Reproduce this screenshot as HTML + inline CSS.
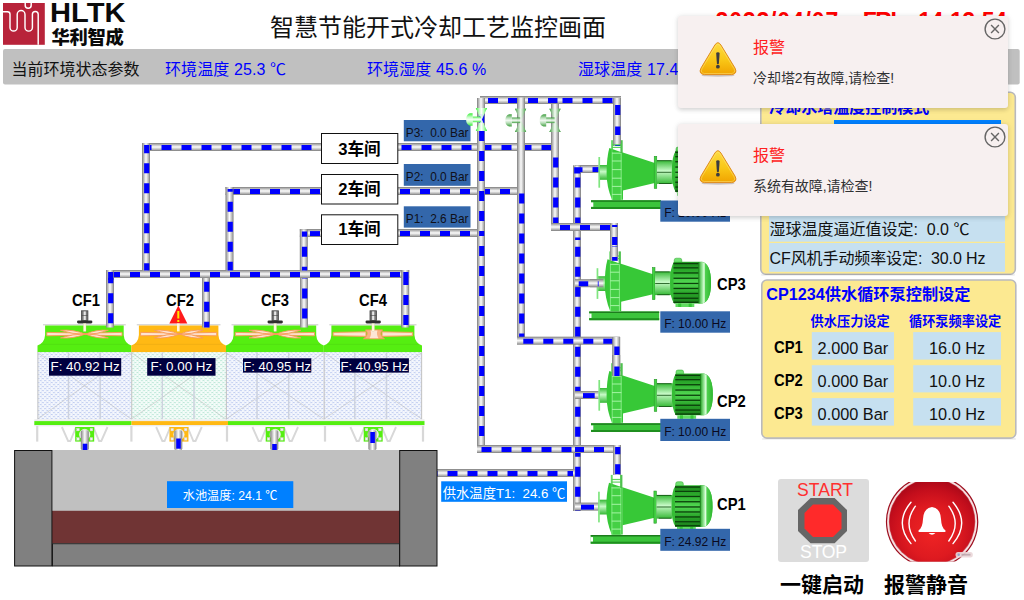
<!DOCTYPE html>
<html lang="zh-CN"><head><meta charset="utf-8"><title>智慧节能开式冷却工艺监控画面</title>
<style>
html,body{margin:0;padding:0;background:#fff;}
body{width:1024px;height:600px;position:relative;overflow:hidden;font-family:"Liberation Sans","Noto Sans CJK SC",sans-serif;color:#000;}
.abs{position:absolute;white-space:nowrap;}
.b{font-weight:bold;}
.toast{width:330px;height:92px;background:#f7f0f0;border-radius:3px;box-shadow:0 1.5px 4px rgba(0,0,0,0.15),0 0 9px rgba(0,0,0,0.05);}
svg{display:block;}
</style></head>
<body>
<svg class="abs" style="left:0;top:0" width="1024" height="600" viewBox="0 0 1024 600">
<defs>
<linearGradient id="pgH" x1="0" y1="0" x2="0" y2="1">
<stop offset="0" stop-color="#7c7c7c"/><stop offset="0.16" stop-color="#acacac"/><stop offset="0.5" stop-color="#fcfcfc"/><stop offset="0.84" stop-color="#acacac"/><stop offset="1" stop-color="#7c7c7c"/>
</linearGradient>
<linearGradient id="pgV" x1="0" y1="0" x2="1" y2="0">
<stop offset="0" stop-color="#7c7c7c"/><stop offset="0.16" stop-color="#acacac"/><stop offset="0.5" stop-color="#fcfcfc"/><stop offset="0.84" stop-color="#acacac"/><stop offset="1" stop-color="#7c7c7c"/>
</linearGradient>
<pattern id="meshB" width="4.4" height="4" patternUnits="userSpaceOnUse">
<rect width="4.4" height="4" fill="#f4f7fd"/><rect x="0.2" y="0.2" width="1.8" height="0.8" fill="#b4c3ee"/><rect x="2.4" y="2.2" width="1.8" height="0.8" fill="#b4c3ee"/><path d="M0.1,1 V2.2 M2.1,1 V2.2 M2.3,3 V4 M4.3,3 V4" stroke="#d3dcf5" stroke-width="0.5"/>
</pattern>
<pattern id="meshG" width="4.4" height="4" patternUnits="userSpaceOnUse">
<rect width="4.4" height="4" fill="#f4fcf9"/><rect x="0.2" y="0.2" width="1.8" height="0.8" fill="#aee2d0"/><rect x="2.4" y="2.2" width="1.8" height="0.8" fill="#aee2d0"/><path d="M0.1,1 V2.2 M2.1,1 V2.2 M2.3,3 V4 M4.3,3 V4" stroke="#d0efe4" stroke-width="0.5"/>
</pattern>
<linearGradient id="gV" x1="0" y1="0" x2="0" y2="1">
<stop offset="0" stop-color="#35b835"/><stop offset="0.45" stop-color="#c8fac8"/><stop offset="1" stop-color="#35b835"/>
</linearGradient>
<linearGradient id="gM" x1="0" y1="0" x2="0" y2="1">
<stop offset="0" stop-color="#1c8a1c"/><stop offset="0.25" stop-color="#2fb02f"/><stop offset="0.5" stop-color="#52d852"/><stop offset="0.75" stop-color="#2aa52a"/><stop offset="1" stop-color="#1a801a"/>
</linearGradient>
<linearGradient id="gCap" x1="0" y1="0" x2="1" y2="0">
<stop offset="0" stop-color="#2cab2c"/><stop offset="0.36" stop-color="#b8f5b8"/><stop offset="0.44" stop-color="#e4ffe4"/><stop offset="0.55" stop-color="#4fd04f"/><stop offset="1" stop-color="#2eb82e"/>
</linearGradient>
<linearGradient id="gBase" x1="0" y1="0" x2="0" y2="1">
<stop offset="0" stop-color="#157015"/><stop offset="0.3" stop-color="#3cc43c"/><stop offset="1" stop-color="#1e8c1e"/>
</linearGradient>
<linearGradient id="gv1H" x1="0" y1="0" x2="1" y2="0"><stop offset="0" stop-color="#3cf03c"/><stop offset="0.28" stop-color="#b8fcb8"/><stop offset="0.5" stop-color="#ffffff" stop-opacity="0.9"/><stop offset="0.72" stop-color="#b8fcb8"/><stop offset="1" stop-color="#3cf03c"/></linearGradient>
<linearGradient id="gv1V" x1="0" y1="0" x2="0" y2="1"><stop offset="0" stop-color="#3cf03c"/><stop offset="0.3" stop-color="#c4fcc4"/><stop offset="0.5" stop-color="#f4fff4"/><stop offset="0.7" stop-color="#c4fcc4"/><stop offset="1" stop-color="#3cf03c"/></linearGradient>
<linearGradient id="gv2H" x1="0" y1="0" x2="1" y2="0"><stop offset="0" stop-color="#2f962f"/><stop offset="0.28" stop-color="#a8d4a8" stop-opacity="0.9"/><stop offset="0.5" stop-color="#f4fff4" stop-opacity="0.8"/><stop offset="0.72" stop-color="#a8d4a8" stop-opacity="0.9"/><stop offset="1" stop-color="#2f962f"/></linearGradient>
<linearGradient id="gv2V" x1="0" y1="0" x2="0" y2="1"><stop offset="0" stop-color="#2f962f"/><stop offset="0.3" stop-color="#b4dcb4"/><stop offset="0.5" stop-color="#f0f8f0"/><stop offset="0.7" stop-color="#b4dcb4"/><stop offset="1" stop-color="#2f962f"/></linearGradient>
<radialGradient id="gAlarm" cx="0.5" cy="0.62" r="0.62">
<stop offset="0" stop-color="#f02424"/><stop offset="0.5" stop-color="#de1a20"/><stop offset="0.8" stop-color="#c40e1c"/><stop offset="1" stop-color="#a80818"/>
</radialGradient>
<linearGradient id="gWarn" x1="0" y1="0" x2="0" y2="1">
<stop offset="0" stop-color="#fddc44"/><stop offset="0.55" stop-color="#f9c616"/><stop offset="1" stop-color="#f0a200"/>
</linearGradient>
</defs>
<rect x="142" y="143.0" width="180" height="8" fill="url(#pgH)"/>
<line x1="144" y1="147.55" x2="322" y2="147.55" stroke="#0000ff" stroke-width="4.9" stroke-dasharray="10 10" stroke-dashoffset="2.5"/>
<rect x="225.5" y="187.0" width="96.5" height="8" fill="url(#pgH)"/>
<line x1="228" y1="191.55" x2="322" y2="191.55" stroke="#0000ff" stroke-width="4.9" stroke-dasharray="10 10" stroke-dashoffset="18"/>
<rect x="299.8" y="229.0" width="22.2" height="8" fill="url(#pgH)"/>
<line x1="302" y1="233.55" x2="322" y2="233.55" stroke="#0000ff" stroke-width="4.9" stroke-dasharray="10 10" stroke-dashoffset="12"/>
<rect x="106" y="270.0" width="303.2" height="8" fill="url(#pgH)"/>
<line x1="108" y1="274.55" x2="409.2" y2="274.55" stroke="#0000ff" stroke-width="4.9" stroke-dasharray="10 10" stroke-dashoffset="18"/>
<rect x="142.0" y="143" width="8" height="127.5" fill="url(#pgV)"/>
<line x1="146.7" y1="145" x2="146.7" y2="270.5" stroke="#0000ff" stroke-width="5.2" stroke-dasharray="10 10" stroke-dashoffset="1.7"/>
<rect x="225.5" y="187" width="8" height="83.5" fill="url(#pgV)"/>
<line x1="230.2" y1="189" x2="230.2" y2="270.5" stroke="#0000ff" stroke-width="5.2" stroke-dasharray="10 10" stroke-dashoffset="7.3"/>
<rect x="299.8" y="229.3" width="8" height="41.2" fill="url(#pgV)"/>
<line x1="304.5" y1="231.5" x2="304.5" y2="236.7" stroke="#0000ff" stroke-width="5.2" stroke-dasharray="10 10" stroke-dashoffset="4.8"/>
<line x1="304.5" y1="240" x2="304.5" y2="270.5" stroke="#0000ff" stroke-width="5.2" stroke-dasharray="10 10" stroke-dashoffset="13.3"/>
<rect x="106.0" y="278" width="8" height="49.5" fill="url(#pgV)"/>
<line x1="110.7" y1="278" x2="110.7" y2="327.5" stroke="#0000ff" stroke-width="5.2" stroke-dasharray="10 10" stroke-dashoffset="4.7"/>
<rect x="202.0" y="278" width="8" height="49.5" fill="url(#pgV)"/>
<line x1="206.7" y1="278" x2="206.7" y2="327.5" stroke="#0000ff" stroke-width="5.2" stroke-dasharray="10 10" stroke-dashoffset="16.3"/>
<rect x="300.0" y="278" width="8" height="49.5" fill="url(#pgV)"/>
<line x1="304.7" y1="278" x2="304.7" y2="327.5" stroke="#0000ff" stroke-width="5.2" stroke-dasharray="10 10" stroke-dashoffset="9.5"/>
<rect x="401.2" y="278" width="8" height="49.5" fill="url(#pgV)"/>
<line x1="405.9" y1="278" x2="405.9" y2="327.5" stroke="#0000ff" stroke-width="5.2" stroke-dasharray="10 10" stroke-dashoffset="3"/>
<rect x="106.0" y="270" width="8" height="8" fill="url(#pgV)"/>
<line x1="110.7" y1="272" x2="110.7" y2="280" stroke="#0000ff" stroke-width="5.2"/>
<rect x="401.2" y="270" width="8" height="8" fill="url(#pgV)"/>
<line x1="405.9" y1="272" x2="405.9" y2="278" stroke="#0000ff" stroke-width="5.2"/>
<rect x="398" y="143.0" width="155" height="8" fill="url(#pgH)"/>
<line x1="400" y1="147.55" x2="553" y2="147.55" stroke="#0000ff" stroke-width="4.9" stroke-dasharray="10 10" stroke-dashoffset="18.5"/>
<rect x="398" y="187.0" width="121" height="8" fill="url(#pgH)"/>
<line x1="400" y1="191.55" x2="519" y2="191.55" stroke="#0000ff" stroke-width="4.9" stroke-dasharray="10 10" stroke-dashoffset="0"/>
<rect x="398" y="229.0" width="85" height="8" fill="url(#pgH)"/>
<line x1="400" y1="233.55" x2="483" y2="233.55" stroke="#0000ff" stroke-width="4.9" stroke-dasharray="10 10" stroke-dashoffset="0"/>
<rect x="551.0" y="104" width="8" height="126" fill="url(#pgV)"/>
<line x1="555.7" y1="157.5" x2="555.7" y2="230" stroke="#0000ff" stroke-width="5.2" stroke-dasharray="10 10" stroke-dashoffset="0.0"/>
<rect x="480" y="96.0" width="141" height="8" fill="url(#pgH)"/>
<line x1="482" y1="100.55" x2="557.5" y2="100.55" stroke="#0000ff" stroke-width="4.9" stroke-dasharray="10 10" stroke-dashoffset="14"/>
<line x1="562.5" y1="100.55" x2="621" y2="100.55" stroke="#0000ff" stroke-width="4.9" stroke-dasharray="10 10" stroke-dashoffset="0.0"/>
<rect x="517.0" y="97.6" width="8" height="246.4" fill="url(#pgV)"/>
<line x1="521.7" y1="190" x2="521.7" y2="344" stroke="#0000ff" stroke-width="5.2" stroke-dasharray="10 10" stroke-dashoffset="16.5"/>
<rect x="477.0" y="98" width="8" height="355" fill="url(#pgV)"/>
<line x1="481.7" y1="131" x2="481.7" y2="236" stroke="#0000ff" stroke-width="5.2" stroke-dasharray="10 10" stroke-dashoffset="0"/>
<line x1="481.7" y1="236" x2="481.7" y2="453" stroke="#0000ff" stroke-width="5.2" stroke-dasharray="10 10" stroke-dashoffset="10"/>
<rect x="573.0" y="165.5" width="8" height="345.5" fill="url(#pgV)"/>
<line x1="577.7" y1="167.5" x2="577.7" y2="240" stroke="#0000ff" stroke-width="5.2" stroke-dasharray="10 10" stroke-dashoffset="10.0"/>
<line x1="577.7" y1="240" x2="577.7" y2="511" stroke="#0000ff" stroke-width="5.2" stroke-dasharray="10 10" stroke-dashoffset="13.3"/>
<rect x="613.0" y="98" width="8" height="48" fill="url(#pgV)"/>
<line x1="617.7" y1="100" x2="617.7" y2="146" stroke="#0000ff" stroke-width="5.2" stroke-dasharray="10 10" stroke-dashoffset="15"/>
<rect x="551" y="223.0" width="67" height="8" fill="url(#pgH)"/>
<line x1="553" y1="227.55" x2="618" y2="227.55" stroke="#0000ff" stroke-width="4.9" stroke-dasharray="10 10" stroke-dashoffset="13"/>
<rect x="610.0" y="223" width="8" height="37.5" fill="url(#pgV)"/>
<line x1="614.7" y1="225" x2="614.7" y2="260.5" stroke="#0000ff" stroke-width="5.2" stroke-dasharray="10 10" stroke-dashoffset="8"/>
<rect x="517" y="336.7" width="103" height="8" fill="url(#pgH)"/>
<line x1="519" y1="341.25" x2="620" y2="341.25" stroke="#0000ff" stroke-width="4.9" stroke-dasharray="10 10" stroke-dashoffset="15.7"/>
<rect x="612.2" y="337" width="8" height="35" fill="url(#pgV)"/>
<line x1="616.9000000000001" y1="339" x2="616.9000000000001" y2="372" stroke="#0000ff" stroke-width="5.2" stroke-dasharray="10 10" stroke-dashoffset="12.5"/>
<rect x="477" y="445.0" width="144" height="8" fill="url(#pgH)"/>
<line x1="479" y1="449.55" x2="575" y2="449.55" stroke="#0000ff" stroke-width="4.9" stroke-dasharray="10 10" stroke-dashoffset="17.5"/>
<line x1="575" y1="449.55" x2="621" y2="449.55" stroke="#0000ff" stroke-width="4.9" stroke-dasharray="10 10" stroke-dashoffset="1"/>
<rect x="613.0" y="445" width="8" height="29.7" fill="url(#pgV)"/>
<line x1="617.7" y1="447" x2="617.7" y2="474.7" stroke="#0000ff" stroke-width="5.2" stroke-dasharray="10 10" stroke-dashoffset="2.8"/>
<rect x="437" y="469.0" width="137.5" height="8" fill="url(#pgH)"/>
<line x1="437" y1="473.55" x2="573" y2="473.55" stroke="#0000ff" stroke-width="4.9" stroke-dasharray="10 10" stroke-dashoffset="9.5"/>
<rect x="575" y="165.0" width="23.7" height="8" fill="url(#pgH)"/>
<line x1="592.5" y1="169.55" x2="598.7" y2="169.55" stroke="#0000ff" stroke-width="4.9"/>
<rect x="575" y="279.2" width="23.7" height="8" fill="url(#pgH)"/>
<line x1="578.7" y1="283.75" x2="588.2" y2="283.75" stroke="#0000ff" stroke-width="4.9"/>
<rect x="575" y="391.0" width="23.7" height="8" fill="url(#pgH)"/>
<line x1="583" y1="395.55" x2="594.7" y2="395.55" stroke="#0000ff" stroke-width="4.9"/>
<rect x="575" y="502.6" width="23.7" height="8" fill="url(#pgH)"/>
<line x1="581" y1="507.15000000000003" x2="594" y2="507.15000000000003" stroke="#0000ff" stroke-width="4.9"/>
<rect x="573" y="165.5" width="8" height="8" fill="url(#pgV)"/>
<path d="M574.2,167.3 H582.5 V172.1 H580.4 V173.5 H574.2 Z" fill="#0000ff"/>
<rect x="321.5" y="133.5" width="76.3" height="30" fill="#fff" stroke="#111" stroke-width="1"/>
<rect x="321.5" y="174.5" width="76.3" height="29.5" fill="#fff" stroke="#111" stroke-width="1"/>
<rect x="321.5" y="214.8" width="76.3" height="29.7" fill="#fff" stroke="#111" stroke-width="1"/>
<line x1="43.0" y1="324.8" x2="125.80000000000001" y2="324.8" stroke="#c4c4c4" stroke-width="0.9"/>
<path d="M37.5,352.3 V345.5 Q44.5,343 45.1,335 V325.4 H123.70000000000002 V335 Q124.30000000000001,343 131.3,345.5 V352.3 Z" fill="#55ee11"/>
<line x1="40.5" y1="344.3" x2="128.3" y2="344.3" stroke="#000" stroke-opacity="0.07" stroke-width="0.8"/>
<g fill="#fde4d2" stroke="#f89858" stroke-width="0.9" stroke-linejoin="round"><path d="M46.8,332.4 L79.5,333 L85.5,334 L79.5,335.2 L46.8,335.8 Z"/><path d="M122.00000000000001,332.4 L91.5,333 L85.5,334 L91.5,335.2 L122.00000000000001,335.8 Z"/><path d="M85.5,334.2 Q73.0,329.2 60.5,330.3 Q73.0,334.4 85.5,334.2 Z"/><path d="M85.5,334 Q73.0,339 60.5,337.9 Q73.0,333.8 85.5,334 Z"/><path d="M85.5,334.2 Q96.9,329.2 108.30000000000001,330.3 Q96.9,334.4 85.5,334.2 Z"/><path d="M85.5,334 Q96.9,339 108.30000000000001,337.9 Q96.9,333.8 85.5,334 Z"/></g>
<rect x="37.5" y="352.3" width="93.80000000000001" height="67" fill="url(#meshB)"/>
<g stroke="#c4c4c8" stroke-width="1" fill="none"><path d="M37.5,419.2 L131.3,352.5 M37.5,352.5 L131.3,419.2" stroke-width="0.55" stroke="#bdbdbd"/><line x1="68.5" y1="352.3" x2="68.5" y2="419.3" stroke-width="1.5" stroke="#cdd2de"/><line x1="100.2" y1="352.3" x2="100.2" y2="419.3" stroke-width="1.5" stroke="#cdd2de"/><line x1="37.9" y1="352.3" x2="37.9" y2="419.3" stroke="#c6c6c6" stroke-width="1.1"/></g>
<rect x="34.3" y="419.3" width="97.2" height="1.8" fill="#ececec"/>
<rect x="34.3" y="421.1" width="97.2" height="3.9" fill="#55ee11"/>
<rect x="34.3" y="425" width="97.2" height="1.3" fill="#ececec"/>
<g stroke="#d8d8d8" stroke-width="2.2" fill="none"><line x1="37.2" y1="426" x2="37.2" y2="441.6"/><path d="M61.900000000000006,427 L68.1,441 H70.3 L76.10000000000001,427" stroke-width="1.9"/><path d="M93.3,427 L99.10000000000001,441 H101.30000000000001 L107.5,427" stroke-width="1.9"/></g>
<rect x="75.2" y="427" width="19" height="14.6" fill="#55ee11"/>
<circle cx="84.7" cy="434.5" r="5.2" fill="#ededed" stroke="#fff" stroke-width="0.6"/>
<rect x="76.7" y="428.3" width="2.6" height="2.6" fill="#f2f2f2" stroke="#d0d0d0" stroke-width="0.4"/>
<rect x="90.10000000000001" y="428.3" width="2.6" height="2.6" fill="#f2f2f2" stroke="#d0d0d0" stroke-width="0.4"/>
<rect x="90.10000000000001" y="437.6" width="2.6" height="2.6" fill="#f2f2f2" stroke="#d0d0d0" stroke-width="0.4"/>
<rect x="76.7" y="437.6" width="2.6" height="2.6" fill="#f2f2f2" stroke="#d0d0d0" stroke-width="0.4"/>
<rect x="81.5" y="310.8" width="6.4" height="9.6" fill="#777" stroke="#444" stroke-width="0.8"/>
<rect x="83.60000000000001" y="311.4" width="2.2" height="8.6" fill="#e8e8e8"/>
<line x1="81.7" y1="315.5" x2="87.7" y2="315.5" stroke="#444" stroke-width="0.6"/>
<rect x="77.0" y="320.6" width="15.4" height="2.9" rx="1.4" fill="#2e2e2e"/>
<rect x="83.4" y="323.4" width="2.6" height="8" fill="#fff8dc" stroke="#cfc8a8" stroke-width="0.3"/>
<line x1="136.8" y1="324.8" x2="220.5" y2="324.8" stroke="#c4c4c4" stroke-width="0.9"/>
<path d="M131.3,352.3 V345.5 Q138.3,343 138.9,335 V325.4 H218.4 V335 Q219,343 226,345.5 V352.3 Z" fill="#ffb914"/>
<line x1="134.3" y1="344.3" x2="223" y2="344.3" stroke="#000" stroke-opacity="0.07" stroke-width="0.8"/>
<g fill="#fde4d2" stroke="#f89858" stroke-width="0.9" stroke-linejoin="round"><path d="M140.60000000000002,332.4 L173.75000000000003,333 L179.75000000000003,334 L173.75000000000003,335.2 L140.60000000000002,335.8 Z"/><path d="M216.7,332.4 L185.75000000000003,333 L179.75000000000003,334 L185.75000000000003,335.2 L216.7,335.8 Z"/><path d="M179.75000000000003,334.2 Q167.0,329.2 154.3,330.3 Q167.0,334.4 179.75000000000003,334.2 Z"/><path d="M179.75000000000003,334 Q167.0,339 154.3,337.9 Q167.0,333.8 179.75000000000003,334 Z"/><path d="M179.75000000000003,334.2 Q191.4,329.2 203,330.3 Q191.4,334.4 179.75000000000003,334.2 Z"/><path d="M179.75000000000003,334 Q191.4,339 203,337.9 Q191.4,333.8 179.75000000000003,334 Z"/></g>
<rect x="131.3" y="352.3" width="94.69999999999999" height="67" fill="url(#meshG)"/>
<g stroke="#c4c4c8" stroke-width="1" fill="none"><path d="M131.3,419.2 L226,352.5 M131.3,352.5 L226,419.2" stroke-width="0.55" stroke="#bdbdbd"/><line x1="162.3" y1="352.3" x2="162.3" y2="419.3" stroke-width="1.5" stroke="#cdd2de"/><line x1="194.0" y1="352.3" x2="194.0" y2="419.3" stroke-width="1.5" stroke="#cdd2de"/><line x1="131.70000000000002" y1="352.3" x2="131.70000000000002" y2="419.3" stroke="#c6c6c6" stroke-width="1.1"/></g>
<rect x="131.5" y="419.3" width="96.5" height="1.8" fill="#ececec"/>
<rect x="131.5" y="421.1" width="96.5" height="3.9" fill="#ffb914"/>
<rect x="131.5" y="425" width="96.5" height="1.3" fill="#ececec"/>
<g stroke="#d8d8d8" stroke-width="2.2" fill="none"><line x1="131.4" y1="426" x2="131.4" y2="441.6"/><path d="M156.15,427 L162.35000000000002,441 H164.55 L170.35000000000002,427" stroke-width="1.9"/><path d="M187.55,427 L193.35000000000002,441 H195.55 L201.75000000000003,427" stroke-width="1.9"/></g>
<rect x="169.45000000000002" y="427" width="19" height="14.6" fill="#ffb914"/>
<circle cx="178.95000000000002" cy="434.5" r="5.2" fill="#ededed" stroke="#fff" stroke-width="0.6"/>
<rect x="170.95000000000002" y="428.3" width="2.6" height="2.6" fill="#f2f2f2" stroke="#d0d0d0" stroke-width="0.4"/>
<rect x="184.35000000000002" y="428.3" width="2.6" height="2.6" fill="#f2f2f2" stroke="#d0d0d0" stroke-width="0.4"/>
<rect x="184.35000000000002" y="437.6" width="2.6" height="2.6" fill="#f2f2f2" stroke="#d0d0d0" stroke-width="0.4"/>
<rect x="170.95000000000002" y="437.6" width="2.6" height="2.6" fill="#f2f2f2" stroke="#d0d0d0" stroke-width="0.4"/>
<line x1="231.5" y1="324.8" x2="318.3" y2="324.8" stroke="#c4c4c4" stroke-width="0.9"/>
<path d="M226,352.3 V345.5 Q233,343 233.6,335 V325.4 H316.2 V335 Q316.8,343 323.8,345.5 V352.3 Z" fill="#55ee11"/>
<line x1="229" y1="344.3" x2="320.8" y2="344.3" stroke="#000" stroke-opacity="0.07" stroke-width="0.8"/>
<g fill="#fde4d2" stroke="#f89858" stroke-width="0.9" stroke-linejoin="round"><path d="M235.3,332.4 L270.0,333 L276.0,334 L270.0,335.2 L235.3,335.8 Z"/><path d="M314.5,332.4 L282.0,333 L276.0,334 L282.0,335.2 L314.5,335.8 Z"/><path d="M276.0,334.2 Q262.5,329.2 249,330.3 Q262.5,334.4 276.0,334.2 Z"/><path d="M276.0,334 Q262.5,339 249,337.9 Q262.5,333.8 276.0,334 Z"/><path d="M276.0,334.2 Q288.4,329.2 300.8,330.3 Q288.4,334.4 276.0,334.2 Z"/><path d="M276.0,334 Q288.4,339 300.8,337.9 Q288.4,333.8 276.0,334 Z"/></g>
<rect x="226" y="352.3" width="97.80000000000001" height="67" fill="url(#meshB)"/>
<g stroke="#c4c4c8" stroke-width="1" fill="none"><path d="M226,419.2 L323.8,352.5 M226,352.5 L323.8,419.2" stroke-width="0.55" stroke="#bdbdbd"/><line x1="257" y1="352.3" x2="257" y2="419.3" stroke-width="1.5" stroke="#cdd2de"/><line x1="288.7" y1="352.3" x2="288.7" y2="419.3" stroke-width="1.5" stroke="#cdd2de"/><line x1="226.4" y1="352.3" x2="226.4" y2="419.3" stroke="#c6c6c6" stroke-width="1.1"/></g>
<rect x="228" y="419.3" width="99" height="1.8" fill="#ececec"/>
<rect x="228" y="421.1" width="99" height="3.9" fill="#55ee11"/>
<rect x="228" y="425" width="99" height="1.3" fill="#ececec"/>
<g stroke="#d8d8d8" stroke-width="2.2" fill="none"><line x1="227" y1="426" x2="227" y2="441.6"/><path d="M252.39999999999998,427 L258.59999999999997,441 H260.8 L266.59999999999997,427" stroke-width="1.9"/><path d="M283.8,427 L289.59999999999997,441 H291.8 L298.0,427" stroke-width="1.9"/></g>
<rect x="265.7" y="427" width="19" height="14.6" fill="#55ee11"/>
<circle cx="275.2" cy="434.5" r="5.2" fill="#ededed" stroke="#fff" stroke-width="0.6"/>
<rect x="267.2" y="428.3" width="2.6" height="2.6" fill="#f2f2f2" stroke="#d0d0d0" stroke-width="0.4"/>
<rect x="280.59999999999997" y="428.3" width="2.6" height="2.6" fill="#f2f2f2" stroke="#d0d0d0" stroke-width="0.4"/>
<rect x="280.59999999999997" y="437.6" width="2.6" height="2.6" fill="#f2f2f2" stroke="#d0d0d0" stroke-width="0.4"/>
<rect x="267.2" y="437.6" width="2.6" height="2.6" fill="#f2f2f2" stroke="#d0d0d0" stroke-width="0.4"/>
<rect x="272.0" y="310.8" width="6.4" height="9.6" fill="#777" stroke="#444" stroke-width="0.8"/>
<rect x="274.09999999999997" y="311.4" width="2.2" height="8.6" fill="#e8e8e8"/>
<line x1="272.2" y1="315.5" x2="278.2" y2="315.5" stroke="#444" stroke-width="0.6"/>
<rect x="267.5" y="320.6" width="15.4" height="2.9" rx="1.4" fill="#2e2e2e"/>
<rect x="273.9" y="323.4" width="2.6" height="8" fill="#fff8dc" stroke="#cfc8a8" stroke-width="0.3"/>
<line x1="329.3" y1="324.8" x2="416.5" y2="324.8" stroke="#c4c4c4" stroke-width="0.9"/>
<path d="M323.8,352.3 V345.5 Q330.8,343 331.40000000000003,335 V325.4 H414.4 V335 Q415,343 422,345.5 V352.3 Z" fill="#55ee11"/>
<line x1="326.8" y1="344.3" x2="419" y2="344.3" stroke="#000" stroke-opacity="0.07" stroke-width="0.8"/>
<g fill="#fcdcc4" stroke="#f89858" stroke-width="0.9" stroke-linejoin="round"><path d="M333.1,332.4 L366.0,331.8 V336.4 L333.1,335.8 Z"/><path d="M412.7,332.4 L382.0,331.8 V336.4 L412.7,335.8 Z"/><path d="M365.5,329.9 H382.5 Q378.0,334.2 384.5,338.8 H363.5 Q370.0,334.2 365.5,329.9 Z" fill="#f8b284"/><path d="M370.5,330.6 H377.5 Q376.0,334.2 378.5,338.2 H369.5 Q372.0,334.2 370.5,330.6 Z" fill="#fde6d6" stroke="none"/></g>
<g stroke="#fff" stroke-width="0.7" opacity="0.8"><line x1="334.8" y1="334.1" x2="365.0" y2="334.1"/><line x1="383.0" y1="334.1" x2="411" y2="334.1"/></g>
<rect x="323.8" y="352.3" width="98.19999999999999" height="67" fill="url(#meshB)"/>
<g stroke="#c4c4c8" stroke-width="1" fill="none"><path d="M323.8,419.2 L422,352.5 M323.8,352.5 L422,419.2" stroke-width="0.55" stroke="#bdbdbd"/><line x1="354.8" y1="352.3" x2="354.8" y2="419.3" stroke-width="1.5" stroke="#cdd2de"/><line x1="386.5" y1="352.3" x2="386.5" y2="419.3" stroke-width="1.5" stroke="#cdd2de"/><line x1="324.2" y1="352.3" x2="324.2" y2="419.3" stroke="#c6c6c6" stroke-width="1.1"/><line x1="421.6" y1="352.3" x2="421.6" y2="419.3" stroke="#c6c6c6" stroke-width="1.1"/></g>
<rect x="327" y="419.3" width="97.5" height="1.8" fill="#ececec"/>
<rect x="327" y="421.1" width="97.5" height="3.9" fill="#55ee11"/>
<rect x="327" y="425" width="97.5" height="1.3" fill="#ececec"/>
<g stroke="#d8d8d8" stroke-width="2.2" fill="none"><line x1="325" y1="426" x2="325" y2="441.6"/><line x1="423" y1="426" x2="423" y2="441.6"/><path d="M350.4,427 L356.59999999999997,441 H358.8 L364.59999999999997,427" stroke-width="1.9"/><path d="M381.8,427 L387.59999999999997,441 H389.8 L396.0,427" stroke-width="1.9"/></g>
<rect x="363.7" y="427" width="19" height="14.6" fill="#55ee11"/>
<circle cx="373.2" cy="434.5" r="5.2" fill="#ededed" stroke="#fff" stroke-width="0.6"/>
<rect x="365.2" y="428.3" width="2.6" height="2.6" fill="#f2f2f2" stroke="#d0d0d0" stroke-width="0.4"/>
<rect x="378.59999999999997" y="428.3" width="2.6" height="2.6" fill="#f2f2f2" stroke="#d0d0d0" stroke-width="0.4"/>
<rect x="378.59999999999997" y="437.6" width="2.6" height="2.6" fill="#f2f2f2" stroke="#d0d0d0" stroke-width="0.4"/>
<rect x="365.2" y="437.6" width="2.6" height="2.6" fill="#f2f2f2" stroke="#d0d0d0" stroke-width="0.4"/>
<rect x="370.0" y="310.8" width="6.4" height="9.6" fill="#777" stroke="#444" stroke-width="0.8"/>
<rect x="372.09999999999997" y="311.4" width="2.2" height="8.6" fill="#e8e8e8"/>
<line x1="370.2" y1="315.5" x2="376.2" y2="315.5" stroke="#444" stroke-width="0.6"/>
<rect x="365.5" y="320.6" width="15.4" height="2.9" rx="1.4" fill="#2e2e2e"/>
<rect x="371.9" y="323.4" width="2.6" height="8" fill="#fff8dc" stroke="#cfc8a8" stroke-width="0.3"/>
<rect x="106.0" y="300" width="8" height="27.5" fill="url(#pgV)"/>
<line x1="110.7" y1="300" x2="110.7" y2="327.5" stroke="#0000ff" stroke-width="5.2" stroke-dasharray="10 10" stroke-dashoffset="6.7"/>
<rect x="202.0" y="300" width="8" height="27.5" fill="url(#pgV)"/>
<line x1="206.7" y1="300" x2="206.7" y2="327.5" stroke="#0000ff" stroke-width="5.2" stroke-dasharray="10 10" stroke-dashoffset="18.3"/>
<rect x="300.0" y="300" width="8" height="27.5" fill="url(#pgV)"/>
<line x1="304.7" y1="300" x2="304.7" y2="327.5" stroke="#0000ff" stroke-width="5.2" stroke-dasharray="10 10" stroke-dashoffset="11.5"/>
<rect x="401.2" y="300" width="8" height="27.5" fill="url(#pgV)"/>
<line x1="405.9" y1="300" x2="405.9" y2="327.5" stroke="#0000ff" stroke-width="5.2" stroke-dasharray="10 10" stroke-dashoffset="5"/>
<rect x="80.8" y="430.3" width="8" height="19.7" rx="1.5" fill="url(#pgV)"/>
<rect x="82.7" y="443.7" width="4.6" height="6.300000000000011" fill="#0000ff"/>
<rect x="174.29999999999998" y="430.3" width="8" height="19.7" rx="1.5" fill="url(#pgV)"/>
<rect x="176.2" y="438.5" width="4.6" height="10.199999999999989" fill="#0000ff"/>
<rect x="270.3" y="430.3" width="8" height="19.7" rx="1.5" fill="url(#pgV)"/>
<rect x="272.2" y="444" width="4.6" height="6" fill="#0000ff"/>
<rect x="368.40000000000003" y="430.3" width="8" height="19.7" rx="1.5" fill="url(#pgV)"/>
<rect x="370.3" y="432" width="4.6" height="11" fill="#0000ff"/>
<path d="M178.3,305.5 L187.3,323.6 H169.3 Z" fill="#ff1a1a"/>
<rect x="177.3" y="311" width="2" height="7.5" fill="#ffe600"/><rect x="177.3" y="320" width="2" height="2" fill="#ffe600"/>
<rect x="177" y="323.4" width="2.6" height="8" fill="#fff8dc"/>
<rect x="49" y="358.1" width="72.2" height="17.6" fill="#000040"/>
<rect x="147.2" y="358.1" width="68.3" height="17.6" fill="#000040"/>
<rect x="243" y="358.3" width="68.3" height="14.3" fill="#000040"/>
<rect x="340" y="358.3" width="68.9" height="14.3" fill="#000040"/>
<rect x="52" y="450" width="348" height="61" fill="#c0c0c0"/>
<rect x="52" y="510.8" width="348" height="32.6" fill="#703434"/>
<rect x="52.5" y="543.7" width="347" height="22.3" fill="#808080" stroke="#222" stroke-width="1"/>
<rect x="14.6" y="450.5" width="37.3" height="115.5" fill="#808080" stroke="#111" stroke-width="1"/>
<rect x="399.7" y="450.5" width="37.3" height="115.5" fill="#808080" stroke="#111" stroke-width="1"/>
<rect x="167" y="481.2" width="126.3" height="26.8" fill="#0080ff"/>
<rect x="441.2" y="481.3" width="125.8" height="20.5" fill="#0080ff"/>
<g transform="translate(-0.3,111.7)"><rect x="591" y="423.3" width="70" height="8.7" fill="#3cc43c"/><rect x="591" y="423.3" width="70" height="1.5" fill="#1c7c1c"/><rect x="591" y="430" width="70" height="2" fill="#1f8f1f"/><rect x="591" y="425.4" width="2.3" height="4.4" fill="#fff"/><rect x="598.4" y="380" width="1.7" height="30.7" fill="#7fe57f"/><rect x="600" y="388" width="8" height="14.8" fill="url(#gV)"/><path d="M609.3,371 L623,375.7 V422.7 H612 Q606.6,410 606.6,396 Q606.6,381 609.3,371 Z" fill="#37c837"/><rect x="612" y="375" width="9.3" height="48" fill="#45d045"/><path d="M612.2,375 V423 M621.2,375.5 V423" stroke="#8cee8c" stroke-width="0.9" fill="none"/><line x1="612" y1="376.2" x2="621.4" y2="376.2" stroke="#a4f4a4" stroke-width="1"/><line x1="612" y1="384" x2="621.4" y2="384" stroke="#a4f4a4" stroke-width="1"/><line x1="612" y1="392.6" x2="621.4" y2="392.6" stroke="#a4f4a4" stroke-width="1"/><line x1="612" y1="401.2" x2="621.4" y2="401.2" stroke="#a4f4a4" stroke-width="1"/><line x1="612" y1="409.4" x2="621.4" y2="409.4" stroke="#a4f4a4" stroke-width="1"/><line x1="612" y1="417.4" x2="621.4" y2="417.4" stroke="#a4f4a4" stroke-width="1"/><rect x="611.1" y="363.2" width="1.9" height="12" fill="#4fd04f" opacity="0.85"/><rect x="620.4" y="363.2" width="2.3" height="13" fill="#3cba3c" opacity="0.9"/><rect x="612" y="367.2" width="9.4" height="1.2" fill="#4fd04f" opacity="0.9"/><rect x="612" y="369.8" width="9.4" height="1.2" fill="#4fd04f" opacity="0.9"/><path d="M622.8,375.6 L654.8,386 V406 L622.8,413.6 Z" fill="#37c837"/><rect x="654.2" y="379.3" width="2.6" height="32.2" fill="#43d243" stroke="#1f8f1f" stroke-width="0.5"/><rect x="656.8" y="383.3" width="16" height="23.6" fill="url(#gV)"/><line x1="657" y1="383.7" x2="671.5" y2="383.7" stroke="#0f4a0f" stroke-width="0.8"/><line x1="657" y1="395.3" x2="671.5" y2="395.3" stroke="#0f4a0f" stroke-width="0.8"/><line x1="659" y1="406.5" x2="671.5" y2="406.5" stroke="#0f4a0f" stroke-width="0.8"/><rect x="676" y="370" width="7.6" height="6.8" rx="2" fill="#6fe06f" stroke="#2aa52a" stroke-width="0.5"/><path d="M676,373.6 H704 Q712.8,376 712.8,394.5 Q712.8,413 704,415.3 H676 Q671.8,410 671.8,394.5 Q671.8,379 676,373.6 Z" fill="#35bd35"/><rect x="675.3" y="374.3" width="25.2" height="40.6" fill="url(#gM)"/><rect x="675.3" y="374.7" width="25.2" height="1.3" fill="#0b3f0b"/><rect x="675.3" y="379.0" width="25.2" height="1.3" fill="#0b3f0b"/><rect x="675.3" y="384.09999999999997" width="25.2" height="1.3" fill="#0b3f0b"/><rect x="675.3" y="389.4" width="25.2" height="1.3" fill="#0b3f0b"/><rect x="675.3" y="394.59999999999997" width="25.2" height="1.3" fill="#0b3f0b"/><rect x="675.3" y="399.59999999999997" width="25.2" height="1.3" fill="#0b3f0b"/><rect x="675.3" y="404.59999999999997" width="25.2" height="1.3" fill="#0b3f0b"/><rect x="675.3" y="409.4" width="25.2" height="1.3" fill="#0b3f0b"/><rect x="675.3" y="413.4" width="25.2" height="1.3" fill="#0b3f0b"/><path d="M700.5,373.8 H704 Q712.8,376 712.8,394.5 Q712.8,413 704,415.2 H700.5 Z" fill="url(#gCap)"/><line x1="700.6" y1="374" x2="700.6" y2="415" stroke="#157015" stroke-width="0.7"/><rect x="677.3" y="415.3" width="18.8" height="3.5" fill="#62dc62"/><rect x="680" y="415.3" width="3" height="3.5" fill="#37c837"/><rect x="690.5" y="415.3" width="3" height="3.5" fill="#37c837"/></g>
<g transform="translate(0,0)"><rect x="591" y="423.3" width="70" height="8.7" fill="#3cc43c"/><rect x="591" y="423.3" width="70" height="1.5" fill="#1c7c1c"/><rect x="591" y="430" width="70" height="2" fill="#1f8f1f"/><rect x="591" y="425.4" width="2.3" height="4.4" fill="#fff"/><rect x="598.4" y="380" width="1.7" height="30.7" fill="#7fe57f"/><rect x="600" y="388" width="8" height="14.8" fill="url(#gV)"/><path d="M609.3,371 L623,375.7 V422.7 H612 Q606.6,410 606.6,396 Q606.6,381 609.3,371 Z" fill="#37c837"/><rect x="612" y="375" width="9.3" height="48" fill="#45d045"/><path d="M612.2,375 V423 M621.2,375.5 V423" stroke="#8cee8c" stroke-width="0.9" fill="none"/><line x1="612" y1="376.2" x2="621.4" y2="376.2" stroke="#a4f4a4" stroke-width="1"/><line x1="612" y1="384" x2="621.4" y2="384" stroke="#a4f4a4" stroke-width="1"/><line x1="612" y1="392.6" x2="621.4" y2="392.6" stroke="#a4f4a4" stroke-width="1"/><line x1="612" y1="401.2" x2="621.4" y2="401.2" stroke="#a4f4a4" stroke-width="1"/><line x1="612" y1="409.4" x2="621.4" y2="409.4" stroke="#a4f4a4" stroke-width="1"/><line x1="612" y1="417.4" x2="621.4" y2="417.4" stroke="#a4f4a4" stroke-width="1"/><rect x="611.1" y="363.2" width="1.9" height="12" fill="#4fd04f" opacity="0.85"/><rect x="620.4" y="363.2" width="2.3" height="13" fill="#3cba3c" opacity="0.9"/><rect x="612" y="367.2" width="9.4" height="1.2" fill="#4fd04f" opacity="0.9"/><rect x="612" y="369.8" width="9.4" height="1.2" fill="#4fd04f" opacity="0.9"/><path d="M622.8,375.6 L654.8,386 V406 L622.8,413.6 Z" fill="#37c837"/><rect x="654.2" y="379.3" width="2.6" height="32.2" fill="#43d243" stroke="#1f8f1f" stroke-width="0.5"/><rect x="656.8" y="383.3" width="16" height="23.6" fill="url(#gV)"/><line x1="657" y1="383.7" x2="671.5" y2="383.7" stroke="#0f4a0f" stroke-width="0.8"/><line x1="657" y1="395.3" x2="671.5" y2="395.3" stroke="#0f4a0f" stroke-width="0.8"/><line x1="659" y1="406.5" x2="671.5" y2="406.5" stroke="#0f4a0f" stroke-width="0.8"/><rect x="676" y="370" width="7.6" height="6.8" rx="2" fill="#6fe06f" stroke="#2aa52a" stroke-width="0.5"/><path d="M676,373.6 H704 Q712.8,376 712.8,394.5 Q712.8,413 704,415.3 H676 Q671.8,410 671.8,394.5 Q671.8,379 676,373.6 Z" fill="#35bd35"/><rect x="675.3" y="374.3" width="25.2" height="40.6" fill="url(#gM)"/><rect x="675.3" y="374.7" width="25.2" height="1.3" fill="#0b3f0b"/><rect x="675.3" y="379.0" width="25.2" height="1.3" fill="#0b3f0b"/><rect x="675.3" y="384.09999999999997" width="25.2" height="1.3" fill="#0b3f0b"/><rect x="675.3" y="389.4" width="25.2" height="1.3" fill="#0b3f0b"/><rect x="675.3" y="394.59999999999997" width="25.2" height="1.3" fill="#0b3f0b"/><rect x="675.3" y="399.59999999999997" width="25.2" height="1.3" fill="#0b3f0b"/><rect x="675.3" y="404.59999999999997" width="25.2" height="1.3" fill="#0b3f0b"/><rect x="675.3" y="409.4" width="25.2" height="1.3" fill="#0b3f0b"/><rect x="675.3" y="413.4" width="25.2" height="1.3" fill="#0b3f0b"/><path d="M700.5,373.8 H704 Q712.8,376 712.8,394.5 Q712.8,413 704,415.2 H700.5 Z" fill="url(#gCap)"/><line x1="700.6" y1="374" x2="700.6" y2="415" stroke="#157015" stroke-width="0.7"/><rect x="677.3" y="415.3" width="18.8" height="3.5" fill="#62dc62"/><rect x="680" y="415.3" width="3" height="3.5" fill="#37c837"/><rect x="690.5" y="415.3" width="3" height="3.5" fill="#37c837"/></g>
<g transform="translate(-1.8,-111.8)"><rect x="591" y="423.3" width="70" height="8.7" fill="#3cc43c"/><rect x="591" y="423.3" width="70" height="1.5" fill="#1c7c1c"/><rect x="591" y="430" width="70" height="2" fill="#1f8f1f"/><rect x="591" y="425.4" width="2.3" height="4.4" fill="#fff"/><rect x="598.4" y="380" width="1.7" height="30.7" fill="#7fe57f"/><rect x="600" y="388" width="8" height="14.8" fill="url(#gV)"/><path d="M609.3,371 L623,375.7 V422.7 H612 Q606.6,410 606.6,396 Q606.6,381 609.3,371 Z" fill="#37c837"/><rect x="612" y="375" width="9.3" height="48" fill="#45d045"/><path d="M612.2,375 V423 M621.2,375.5 V423" stroke="#8cee8c" stroke-width="0.9" fill="none"/><line x1="612" y1="376.2" x2="621.4" y2="376.2" stroke="#a4f4a4" stroke-width="1"/><line x1="612" y1="384" x2="621.4" y2="384" stroke="#a4f4a4" stroke-width="1"/><line x1="612" y1="392.6" x2="621.4" y2="392.6" stroke="#a4f4a4" stroke-width="1"/><line x1="612" y1="401.2" x2="621.4" y2="401.2" stroke="#a4f4a4" stroke-width="1"/><line x1="612" y1="409.4" x2="621.4" y2="409.4" stroke="#a4f4a4" stroke-width="1"/><line x1="612" y1="417.4" x2="621.4" y2="417.4" stroke="#a4f4a4" stroke-width="1"/><rect x="611.1" y="363.2" width="1.9" height="12" fill="#4fd04f" opacity="0.85"/><rect x="620.4" y="363.2" width="2.3" height="13" fill="#3cba3c" opacity="0.9"/><rect x="612" y="367.2" width="9.4" height="1.2" fill="#4fd04f" opacity="0.9"/><rect x="612" y="369.8" width="9.4" height="1.2" fill="#4fd04f" opacity="0.9"/><path d="M622.8,375.6 L654.8,386 V406 L622.8,413.6 Z" fill="#37c837"/><rect x="654.2" y="379.3" width="2.6" height="32.2" fill="#43d243" stroke="#1f8f1f" stroke-width="0.5"/><rect x="656.8" y="383.3" width="16" height="23.6" fill="url(#gV)"/><line x1="657" y1="383.7" x2="671.5" y2="383.7" stroke="#0f4a0f" stroke-width="0.8"/><line x1="657" y1="395.3" x2="671.5" y2="395.3" stroke="#0f4a0f" stroke-width="0.8"/><line x1="659" y1="406.5" x2="671.5" y2="406.5" stroke="#0f4a0f" stroke-width="0.8"/><rect x="676" y="370" width="7.6" height="6.8" rx="2" fill="#6fe06f" stroke="#2aa52a" stroke-width="0.5"/><path d="M676,373.6 H704 Q712.8,376 712.8,394.5 Q712.8,413 704,415.3 H676 Q671.8,410 671.8,394.5 Q671.8,379 676,373.6 Z" fill="#35bd35"/><rect x="675.3" y="374.3" width="25.2" height="40.6" fill="url(#gM)"/><rect x="675.3" y="374.7" width="25.2" height="1.3" fill="#0b3f0b"/><rect x="675.3" y="379.0" width="25.2" height="1.3" fill="#0b3f0b"/><rect x="675.3" y="384.09999999999997" width="25.2" height="1.3" fill="#0b3f0b"/><rect x="675.3" y="389.4" width="25.2" height="1.3" fill="#0b3f0b"/><rect x="675.3" y="394.59999999999997" width="25.2" height="1.3" fill="#0b3f0b"/><rect x="675.3" y="399.59999999999997" width="25.2" height="1.3" fill="#0b3f0b"/><rect x="675.3" y="404.59999999999997" width="25.2" height="1.3" fill="#0b3f0b"/><rect x="675.3" y="409.4" width="25.2" height="1.3" fill="#0b3f0b"/><rect x="675.3" y="413.4" width="25.2" height="1.3" fill="#0b3f0b"/><path d="M700.5,373.8 H704 Q712.8,376 712.8,394.5 Q712.8,413 704,415.2 H700.5 Z" fill="url(#gCap)"/><line x1="700.6" y1="374" x2="700.6" y2="415" stroke="#157015" stroke-width="0.7"/><rect x="677.3" y="415.3" width="18.8" height="3.5" fill="#62dc62"/><rect x="680" y="415.3" width="3" height="3.5" fill="#37c837"/><rect x="690.5" y="415.3" width="3" height="3.5" fill="#37c837"/></g>
<g transform="translate(0,-223)"><rect x="591" y="423.3" width="70" height="8.7" fill="#3cc43c"/><rect x="591" y="423.3" width="70" height="1.5" fill="#1c7c1c"/><rect x="591" y="430" width="70" height="2" fill="#1f8f1f"/><rect x="591" y="425.4" width="2.3" height="4.4" fill="#fff"/><rect x="598.4" y="380" width="1.7" height="30.7" fill="#7fe57f"/><rect x="600" y="388" width="8" height="14.8" fill="url(#gV)"/><path d="M609.3,371 L623,375.7 V422.7 H612 Q606.6,410 606.6,396 Q606.6,381 609.3,371 Z" fill="#37c837"/><rect x="612" y="375" width="9.3" height="48" fill="#45d045"/><path d="M612.2,375 V423 M621.2,375.5 V423" stroke="#8cee8c" stroke-width="0.9" fill="none"/><line x1="612" y1="376.2" x2="621.4" y2="376.2" stroke="#a4f4a4" stroke-width="1"/><line x1="612" y1="384" x2="621.4" y2="384" stroke="#a4f4a4" stroke-width="1"/><line x1="612" y1="392.6" x2="621.4" y2="392.6" stroke="#a4f4a4" stroke-width="1"/><line x1="612" y1="401.2" x2="621.4" y2="401.2" stroke="#a4f4a4" stroke-width="1"/><line x1="612" y1="409.4" x2="621.4" y2="409.4" stroke="#a4f4a4" stroke-width="1"/><line x1="612" y1="417.4" x2="621.4" y2="417.4" stroke="#a4f4a4" stroke-width="1"/><rect x="611.1" y="363.2" width="1.9" height="12" fill="#4fd04f" opacity="0.85"/><rect x="620.4" y="363.2" width="2.3" height="13" fill="#3cba3c" opacity="0.9"/><rect x="612" y="367.2" width="9.4" height="1.2" fill="#4fd04f" opacity="0.9"/><rect x="612" y="369.8" width="9.4" height="1.2" fill="#4fd04f" opacity="0.9"/><path d="M622.8,375.6 L654.8,386 V406 L622.8,413.6 Z" fill="#37c837"/><rect x="654.2" y="379.3" width="2.6" height="32.2" fill="#43d243" stroke="#1f8f1f" stroke-width="0.5"/><rect x="656.8" y="383.3" width="16" height="23.6" fill="url(#gV)"/><line x1="657" y1="383.7" x2="671.5" y2="383.7" stroke="#0f4a0f" stroke-width="0.8"/><line x1="657" y1="395.3" x2="671.5" y2="395.3" stroke="#0f4a0f" stroke-width="0.8"/><line x1="659" y1="406.5" x2="671.5" y2="406.5" stroke="#0f4a0f" stroke-width="0.8"/><rect x="676" y="370" width="7.6" height="6.8" rx="2" fill="#6fe06f" stroke="#2aa52a" stroke-width="0.5"/><path d="M676,373.6 H704 Q712.8,376 712.8,394.5 Q712.8,413 704,415.3 H676 Q671.8,410 671.8,394.5 Q671.8,379 676,373.6 Z" fill="#35bd35"/><rect x="675.3" y="374.3" width="25.2" height="40.6" fill="url(#gM)"/><rect x="675.3" y="374.7" width="25.2" height="1.3" fill="#0b3f0b"/><rect x="675.3" y="379.0" width="25.2" height="1.3" fill="#0b3f0b"/><rect x="675.3" y="384.09999999999997" width="25.2" height="1.3" fill="#0b3f0b"/><rect x="675.3" y="389.4" width="25.2" height="1.3" fill="#0b3f0b"/><rect x="675.3" y="394.59999999999997" width="25.2" height="1.3" fill="#0b3f0b"/><rect x="675.3" y="399.59999999999997" width="25.2" height="1.3" fill="#0b3f0b"/><rect x="675.3" y="404.59999999999997" width="25.2" height="1.3" fill="#0b3f0b"/><rect x="675.3" y="409.4" width="25.2" height="1.3" fill="#0b3f0b"/><rect x="675.3" y="413.4" width="25.2" height="1.3" fill="#0b3f0b"/><path d="M700.5,373.8 H704 Q712.8,376 712.8,394.5 Q712.8,413 704,415.2 H700.5 Z" fill="url(#gCap)"/><line x1="700.6" y1="374" x2="700.6" y2="415" stroke="#157015" stroke-width="0.7"/><rect x="677.3" y="415.3" width="18.8" height="3.5" fill="#62dc62"/><rect x="680" y="415.3" width="3" height="3.5" fill="#37c837"/><rect x="690.5" y="415.3" width="3" height="3.5" fill="#37c837"/></g>
<rect x="613.0" y="125" width="8" height="19" fill="url(#pgV)"/>
<line x1="617.7" y1="126.5" x2="617.7" y2="144" stroke="#0000ff" stroke-width="5.2" stroke-dasharray="10 10" stroke-dashoffset="1.5"/>
<rect x="610.0" y="245" width="8" height="15.7" fill="url(#pgV)"/>
<line x1="614.7" y1="246.5" x2="614.7" y2="260.7" stroke="#0000ff" stroke-width="5.2" stroke-dasharray="10 10" stroke-dashoffset="9.5"/>
<rect x="612.2" y="355" width="8" height="21" fill="url(#pgV)"/>
<line x1="616.9000000000001" y1="356.5" x2="616.9000000000001" y2="376" stroke="#0000ff" stroke-width="5.2" stroke-dasharray="10 10" stroke-dashoffset="10.0"/>
<rect x="613.0" y="460" width="8" height="14.7" fill="url(#pgV)"/>
<line x1="617.7" y1="461.5" x2="617.7" y2="474.7" stroke="#0000ff" stroke-width="5.2" stroke-dasharray="10 10" stroke-dashoffset="17.3"/>
<rect x="590" y="279.2" width="13.3" height="8" fill="url(#pgH)"/>
<line x1="597.8" y1="283.75" x2="598.6" y2="283.75" stroke="#0000ff" stroke-width="4.9"/>
<rect x="660.3" y="528.8" width="69.7" height="22" fill="#3367ab"/>
<rect x="660.3" y="418.8" width="69.7" height="22.2" fill="#3367ab"/>
<rect x="660.3" y="311.3" width="69.7" height="21.4" fill="#3367ab"/>
<rect x="660.3" y="200.5" width="69.7" height="21.2" fill="#3367ab"/>
<rect x="403.8" y="120" width="66.7" height="21.3" fill="#3367ab"/>
<rect x="403.8" y="164" width="66.7" height="21.8" fill="#3367ab"/>
<rect x="403.8" y="206.3" width="66.7" height="21.3" fill="#3367ab"/>
<rect x="478.9" y="114" width="5.4" height="9" fill="#0000ff"/>
<g opacity="1"><path d="M475.79999999999995,107.9 H487.0 L482.0,119.5 L487.0,131.1 H475.79999999999995 L480.79999999999995,119.5 Z" fill="url(#gv1H)"/><path d="M475.79999999999995,107.9 H487.0 L486.0,109.9 H476.79999999999995 Z M475.79999999999995,131.1 H487.0 L486.0,129.1 H476.79999999999995 Z" fill="url(#gv1H)"/><rect x="472.4" y="116.6" width="8.6" height="5.6" fill="url(#gv1V)"/><path d="M472.59999999999997,113.3 H469.9 Q466.09999999999997,114.5 466.09999999999997,119.5 Q466.09999999999997,124.5 469.9,125.7 H472.59999999999997 Z" fill="url(#gv1V)"/></g>
<g opacity="0.92"><path d="M515.0,108.80000000000001 H526.2 L521.2,120.4 L526.2,132.0 H515.0 L520.0,120.4 Z" fill="url(#gv2H)"/><path d="M515.0,108.80000000000001 H526.2 L525.2,110.80000000000001 H516.0 Z M515.0,132.0 H526.2 L525.2,130.0 H516.0 Z" fill="url(#gv2H)"/><rect x="511.6" y="117.5" width="8.6" height="5.6" fill="url(#gv2V)"/><path d="M511.8,114.2 H509.1 Q505.3,115.4 505.3,120.4 Q505.3,125.4 509.1,126.60000000000001 H511.8 Z" fill="url(#gv2V)"/></g>
<g opacity="0.92"><path d="M549.4,108.80000000000001 H560.6 L555.6,120.4 L560.6,132.0 H549.4 L554.4,120.4 Z" fill="url(#gv2H)"/><path d="M549.4,108.80000000000001 H560.6 L559.6,110.80000000000001 H550.4 Z M549.4,132.0 H560.6 L559.6,130.0 H550.4 Z" fill="url(#gv2H)"/><rect x="546" y="117.5" width="8.6" height="5.6" fill="url(#gv2V)"/><path d="M546.2,114.2 H543.5 Q539.7,115.4 539.7,120.4 Q539.7,125.4 543.5,126.60000000000001 H546.2 Z" fill="url(#gv2V)"/></g>
<rect x="3" y="3" width="41.8" height="41.8" fill="#b8233a"/>
<path d="M3,11.7 H7.4 Q10,11.7 10,14.3 V27.4 A3.6,3.6 0 0 0 17.2,27.4 V14.4 A3.9,3.9 0 0 1 25,14.4 V27.4 A3.7,3.7 0 0 0 32.4,27.4 V14.3 A2.9,2.9 0 0 1 38.2,14.3 V44.8" fill="none" stroke="#fff" stroke-width="1.45"/>
<path d="M25.2,3 V5.3 A3,3 0 0 0 31.2,5.3 V3" fill="none" stroke="#fff" stroke-width="1.45"/>
<rect x="3" y="49" width="1016.7" height="35.5" rx="2" fill="#c0c0c0"/>
<rect x="760.8" y="92.3" width="254.5" height="181.9" rx="5" fill="#fce991" stroke="#b9b9bd" stroke-width="1.6"/>
<rect x="761" y="273.9" width="254" height="1.8" rx="0.9" fill="#000" opacity="0.07"/>
<rect x="834" y="120" width="167" height="4" fill="#0080ff"/>
<rect x="769" y="214" width="236" height="27.7" fill="#c6e0f0"/>
<rect x="769" y="243" width="236" height="28.8" fill="#c6e0f0"/>
<rect x="761.8" y="280" width="254" height="158" rx="5" fill="#fce991" stroke="#b9b9bd" stroke-width="1.6"/>
<rect x="762" y="438" width="254" height="1.8" rx="0.9" fill="#000" opacity="0.07"/>
<rect x="811.8" y="332.1" width="82.2" height="27.5" fill="#c6e0f0"/>
<rect x="913.2" y="332.1" width="87.8" height="27.5" fill="#c6e0f0"/>
<rect x="811.8" y="365.2" width="82.2" height="27.2" fill="#c6e0f0"/>
<rect x="913.2" y="365.2" width="87.8" height="27.2" fill="#c6e0f0"/>
<rect x="811.8" y="398.1" width="82.2" height="27.5" fill="#c6e0f0"/>
<rect x="913.2" y="398.1" width="87.8" height="27.5" fill="#c6e0f0"/>
<rect x="778" y="479" width="91" height="83" rx="3" fill="#dcdcdc"/>
<path d="M810.6,498 H834.6 L847,510 V531 L834.6,543.3 H810.6 L798,531 V510 Z" fill="#666"/>
<path d="M813,504.5 H833 L841.5,513 V528.5 L833,537 H813 L804.5,528.5 V513 Z" fill="#ff2a2a"/>
<clipPath id="clipAlarm"><rect x="884" y="482" width="96" height="79.6"/></clipPath>
<g clip-path="url(#clipAlarm)"><circle cx="932.1" cy="521.7" r="46.2" fill="#9c0c1c"/><circle cx="932.1" cy="521.7" r="45" fill="#f6e0e2"/><circle cx="932.1" cy="521.7" r="43.2" fill="#c8505a"/><circle cx="932.1" cy="521.7" r="42.6" fill="url(#gAlarm)"/></g>
<path d="M918.6,530.2 Q922.6,528 923,519 Q923.6,508 932,507 Q940.4,508 941,519 Q941.4,528 945.4,530.2 V531.9 H918.6 Z" fill="#fff"/>
<path d="M928.6,533 Q932,536.6 935.4,533 Z" fill="#fff"/>
<g fill="none" stroke="#fff" stroke-width="1.4" stroke-linecap="round"><path d="M915.4,506.2 Q902.6,523.5 915.4,541"/><path d="M911,502.2 Q893.6,523 911,543.6"/><path d="M948.8,506.2 Q961.6,523.5 948.8,541"/><path d="M953,502.2 Q970.4,523 953,543.6"/></g>
<rect x="955.5" y="552" width="17.3" height="5.6" rx="2.5" fill="#ead6d8" opacity="0.9"/>
<rect x="957.5" y="553.4" width="2.4" height="2.6" rx="1" fill="#7aa0d0" opacity="0.8"/><rect x="961.5" y="553.8" width="9" height="1.8" fill="#a89098" opacity="0.6"/>
</svg>
<div class="abs b" style="left:321px;top:133px;width:77px;height:31px;line-height:33px;text-align:center;font-size:16.6px;">3车间</div>
<div class="abs b" style="left:321px;top:174px;width:77px;height:30.5px;line-height:32.5px;text-align:center;font-size:16.6px;">2车间</div>
<div class="abs b" style="left:321px;top:214.3px;width:77px;height:30.7px;line-height:32.7px;text-align:center;font-size:16.6px;">1车间</div>
<div class="abs b" style="left:55.7px;top:289.5px;width:60px;text-align:center;font-size:16.4px;line-height:20px;transform:scaleX(0.9);">CF1</div>
<div class="abs b" style="left:150.2px;top:289.5px;width:60px;text-align:center;font-size:16.4px;line-height:20px;transform:scaleX(0.9);">CF2</div>
<div class="abs b" style="left:245.2px;top:289.5px;width:60px;text-align:center;font-size:16.4px;line-height:20px;transform:scaleX(0.9);">CF3</div>
<div class="abs b" style="left:342.6px;top:289.5px;width:60px;text-align:center;font-size:16.4px;line-height:20px;transform:scaleX(0.9);">CF4</div>
<div class="abs" style="left:49px;top:357.4px;width:72.2px;line-height:20px;text-align:center;font-size:13.4px;color:#fff;">F: 40.92 Hz</div>
<div class="abs" style="left:147.2px;top:357.4px;width:68.3px;line-height:20px;text-align:center;font-size:13.4px;color:#fff;">F: 0.00 Hz</div>
<div class="abs" style="left:243px;top:356.6px;width:68.3px;line-height:20px;text-align:center;font-size:13.1px;color:#fff;">F: 40.95 Hz</div>
<div class="abs" style="left:340px;top:356.6px;width:68.9px;line-height:20px;text-align:center;font-size:13.1px;color:#fff;">F: 40.95 Hz</div>
<div class="abs" style="left:167px;top:485.6px;width:126.3px;line-height:20px;text-align:center;font-size:12.2px;color:#fff;">水池温度: 24.1 ℃</div>
<div class="abs" style="left:441.2px;top:483.6px;width:125.8px;line-height:20px;text-align:center;font-size:13.3px;color:#fff;">供水温度T1:&nbsp; 24.6 ℃</div>
<div class="abs b" style="left:717.2px;top:493px;font-size:16.4px;line-height:22px;transform-origin:0 50%;transform:scaleX(0.9);">CP1</div>
<div class="abs b" style="left:717.2px;top:390px;font-size:16.4px;line-height:22px;transform-origin:0 50%;transform:scaleX(0.9);">CP2</div>
<div class="abs b" style="left:717.2px;top:272.6px;font-size:16.4px;line-height:22px;transform-origin:0 50%;transform:scaleX(0.9);">CP3</div>
<div class="abs b" style="left:717.2px;top:161px;font-size:16.4px;line-height:22px;transform-origin:0 50%;transform:scaleX(0.9);">CP4</div>
<div class="abs" style="left:660.3px;top:531.8px;width:69.7px;line-height:20px;text-align:center;font-size:12px;color:#0a0a20;">F: 24.92 Hz</div>
<div class="abs" style="left:660.3px;top:421.9px;width:69.7px;line-height:20px;text-align:center;font-size:12px;color:#0a0a20;">F: 10.00 Hz</div>
<div class="abs" style="left:660.3px;top:314.0px;width:69.7px;line-height:20px;text-align:center;font-size:12px;color:#0a0a20;">F: 10.00 Hz</div>
<div class="abs" style="left:660.3px;top:203.1px;width:69.7px;line-height:20px;text-align:center;font-size:12px;color:#0a0a20;">F: 10.00 Hz</div>
<div class="abs" style="left:403.8px;top:122.7px;width:66.7px;line-height:20px;text-align:center;font-size:11.9px;color:#101018;">P3:&nbsp; 0.0 Bar</div>
<div class="abs" style="left:403.8px;top:166.9px;width:66.7px;line-height:20px;text-align:center;font-size:11.9px;color:#101018;">P2:&nbsp; 0.0 Bar</div>
<div class="abs" style="left:403.8px;top:209.0px;width:66.7px;line-height:20px;text-align:center;font-size:11.9px;color:#101018;">P1:&nbsp; 2.6 Bar</div>
<div class="abs b" style="left:50.3px;top:-3px;font-size:27.6px;line-height:32px;color:#0a0a0a;transform-origin:0 0;transform:scaleX(1.055);">HLTK</div>
<div class="abs" style="left:51.5px;top:25.5px;font-size:18.3px;line-height:24px;font-weight:900;color:#0a0a0a;letter-spacing:-0.25px;">华利智成</div>
<div class="abs" style="left:270px;top:11px;font-size:24px;line-height:34px;color:#111;">智慧节能开式冷却工艺监控画面</div>
<div class="abs b" style="left:714.5px;top:6px;font-size:23px;line-height:30px;color:#ff0000;white-space:pre;"><span style="letter-spacing:0.85px;margin-left:1px;">2022/04/07</span><span style="letter-spacing:17.1px;"> </span><span style="letter-spacing:-1.4px;">FRI</span><span style="letter-spacing:16.3px;"> </span><span style="letter-spacing:-0.5px;">14:12:54</span></div>
<div class="abs" style="left:11.5px;top:57.7px;font-size:16px;line-height:24px;color:#111;">当前环境状态参数</div>
<div class="abs" style="left:165px;top:57.7px;font-size:16px;letter-spacing:0.1px;line-height:24px;color:#0000ff;">环境温度 25.3 ℃</div>
<div class="abs" style="left:367px;top:57.7px;font-size:16px;letter-spacing:0.1px;line-height:24px;color:#0000ff;">环境湿度 45.6 %</div>
<div class="abs" style="left:578px;top:57.7px;font-size:16px;letter-spacing:0.1px;line-height:24px;color:#0000ff;">湿球温度 17.4 ℃</div>
<div class="abs b" style="left:769.3px;top:97.3px;font-size:16px;line-height:22px;color:#0000ff;">冷却水塔温度控制模式</div>
<div class="abs" style="left:769.4px;top:219.2px;font-size:16px;line-height:22px;color:#111;letter-spacing:0px;">湿球温度逼近值设定:&nbsp; 0.0 ℃</div>
<div class="abs" style="left:769.6px;top:247.8px;font-size:16px;line-height:22px;color:#111;letter-spacing:-0.1px;">CF风机手动频率设定:&nbsp; 30.0 Hz</div>
<div class="abs b" style="left:766.3px;top:283.3px;font-size:16.2px;line-height:22px;color:#0000ff;">CP1234供水循环泵控制设定</div>
<div class="abs b" style="left:810.6px;top:313.3px;font-size:13.2px;line-height:18px;color:#0000ff;">供水压力设定</div>
<div class="abs b" style="left:909px;top:313.3px;font-size:13.2px;line-height:18px;color:#0000ff;">循环泵频率设定</div>
<div class="abs b" style="left:774.4px;top:337.4px;font-size:16.4px;line-height:20px;transform-origin:0 50%;transform:scaleX(0.9);">CP1</div>
<div class="abs" style="left:811.8px;top:338.4px;width:82.2px;text-align:center;font-size:16.3px;line-height:20px;color:#111;">2.000 Bar</div>
<div class="abs" style="left:913.2px;top:338.4px;width:87.8px;text-align:center;font-size:16.3px;line-height:20px;color:#111;">16.0 Hz</div>
<div class="abs b" style="left:774.4px;top:370.3px;font-size:16.4px;line-height:20px;transform-origin:0 50%;transform:scaleX(0.9);">CP2</div>
<div class="abs" style="left:811.8px;top:371.3px;width:82.2px;text-align:center;font-size:16.3px;line-height:20px;color:#111;">0.000 Bar</div>
<div class="abs" style="left:913.2px;top:371.3px;width:87.8px;text-align:center;font-size:16.3px;line-height:20px;color:#111;">10.0 Hz</div>
<div class="abs b" style="left:774.4px;top:403.4px;font-size:16.4px;line-height:20px;transform-origin:0 50%;transform:scaleX(0.9);">CP3</div>
<div class="abs" style="left:811.8px;top:404.4px;width:82.2px;text-align:center;font-size:16.3px;line-height:20px;color:#111;">0.000 Bar</div>
<div class="abs" style="left:913.2px;top:404.4px;width:87.8px;text-align:center;font-size:16.3px;line-height:20px;color:#111;">10.0 Hz</div>
<div class="abs" style="left:779.5px;top:479px;width:91px;text-align:center;font-size:17.6px;line-height:22px;color:#ff3030;">START</div>
<div class="abs" style="left:778px;top:541.3px;width:91px;text-align:center;font-size:17.6px;line-height:22px;color:#fff;letter-spacing:-0.2px;">STOP</div>
<div class="abs b" style="left:780px;top:571px;font-size:21px;line-height:28px;">一键启动</div>
<div class="abs b" style="left:884px;top:571px;font-size:21px;line-height:28px;">报警静音</div>
<div class="abs toast" style="left:678px;top:16px;">
<svg class="abs" style="left:20px;top:25px" width="40" height="40" viewBox="0 0 40 40"><ellipse cx="20" cy="34.4" rx="16.5" ry="1.3" fill="#000" opacity="0.18"/><path d="M16.9,4 Q19.9,-0.6 22.9,4 L37.2,27.4 Q39.6,33 33.6,33.6 H6.4 Q0.4,33 2.8,27.4 Z" fill="url(#gWarn)" stroke="#e08c1c" stroke-width="1"/><path d="M17.5,5 Q19.9,1.4 22.3,5 L36.1,27.8 Q37.9,32.1 33.4,32.5 H6.6 Q2.1,32.1 3.9,27.8 Z" fill="none" stroke="#ffe680" stroke-width="0.7" opacity="0.7"/><path d="M18.2,12.6 Q18.2,11.2 19.9,11.2 Q21.6,11.2 21.6,12.6 L20.9,22.4 Q20.8,23.2 19.9,23.2 Q19,23.2 18.9,22.4 Z" fill="#3c3c40"/><circle cx="19.9" cy="25.7" r="1.9" fill="#3c3c40"/></svg>
<div class="abs" style="left:75px;top:21.3px;font-size:16px;line-height:22px;color:#ff2020;">报警</div>
<div class="abs" style="left:75px;top:52px;font-size:14px;line-height:20px;color:#303133;letter-spacing:-0.05px;">冷却塔2有故障,请检查!</div>
<svg class="abs" style="left:306px;top:2px" width="23" height="23" viewBox="0 0 23 23"><circle cx="11" cy="11" r="9.9" fill="none" stroke="#666" stroke-width="1.4"/><path d="M7.1,7.1 L14.9,14.9 M14.9,7.1 L7.1,14.9" stroke="#666" stroke-width="1.4" fill="none"/></svg>
</div>
<div class="abs toast" style="left:678px;top:124px;">
<svg class="abs" style="left:20px;top:25px" width="40" height="40" viewBox="0 0 40 40"><ellipse cx="20" cy="34.4" rx="16.5" ry="1.3" fill="#000" opacity="0.18"/><path d="M16.9,4 Q19.9,-0.6 22.9,4 L37.2,27.4 Q39.6,33 33.6,33.6 H6.4 Q0.4,33 2.8,27.4 Z" fill="url(#gWarn)" stroke="#e08c1c" stroke-width="1"/><path d="M17.5,5 Q19.9,1.4 22.3,5 L36.1,27.8 Q37.9,32.1 33.4,32.5 H6.6 Q2.1,32.1 3.9,27.8 Z" fill="none" stroke="#ffe680" stroke-width="0.7" opacity="0.7"/><path d="M18.2,12.6 Q18.2,11.2 19.9,11.2 Q21.6,11.2 21.6,12.6 L20.9,22.4 Q20.8,23.2 19.9,23.2 Q19,23.2 18.9,22.4 Z" fill="#3c3c40"/><circle cx="19.9" cy="25.7" r="1.9" fill="#3c3c40"/></svg>
<div class="abs" style="left:75px;top:21.3px;font-size:16px;line-height:22px;color:#ff2020;">报警</div>
<div class="abs" style="left:75px;top:52px;font-size:14px;line-height:20px;color:#303133;letter-spacing:-0.05px;">系统有故障,请检查!</div>
<svg class="abs" style="left:306px;top:2px" width="23" height="23" viewBox="0 0 23 23"><circle cx="11" cy="11" r="9.9" fill="none" stroke="#666" stroke-width="1.4"/><path d="M7.1,7.1 L14.9,14.9 M14.9,7.1 L7.1,14.9" stroke="#666" stroke-width="1.4" fill="none"/></svg>
</div>
</body></html>
